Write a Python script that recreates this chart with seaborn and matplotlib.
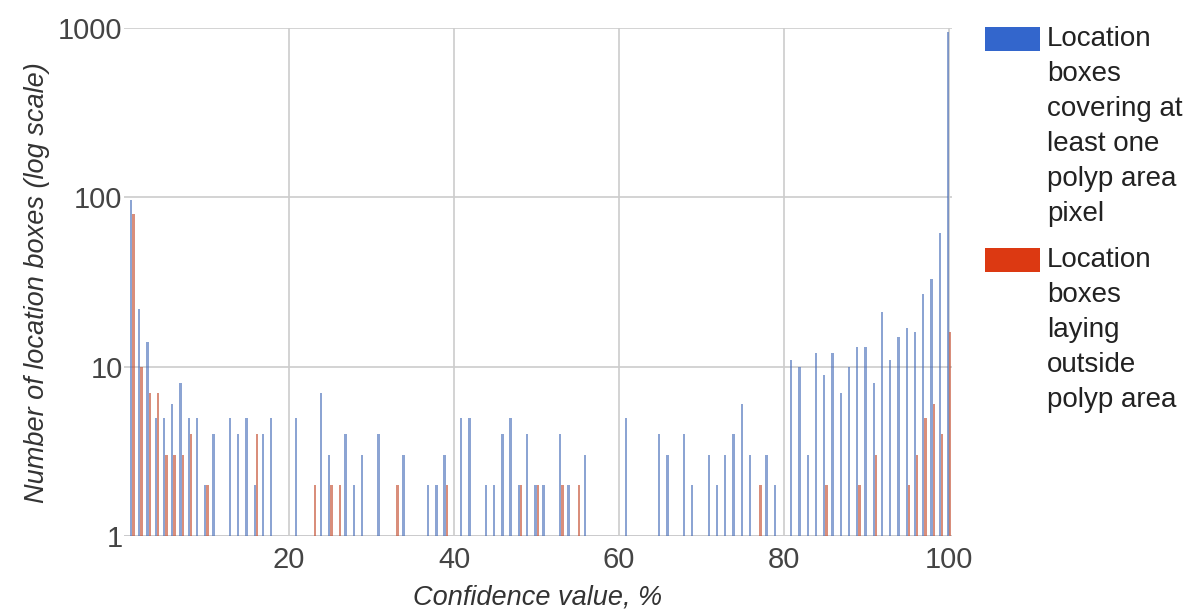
import matplotlib
matplotlib.use("Agg")
import matplotlib.pyplot as plt
import matplotlib.patches as mpatches
import numpy as np
import pandas as pd
import seaborn as sns

# Confidence values (%) and box counts for boxes covering at least one polyp pixel
covering_conf = [1, 2, 3, 4, 5, 6, 7, 8, 9, 10, 11, 13, 14, 15, 16, 17, 18, 21,
                 24, 25, 27, 28, 29, 31, 34, 37, 38, 39, 41, 42, 44, 45, 46, 47,
                 48, 49, 50, 51, 53, 54, 56, 61, 65, 66, 68, 69, 71, 72, 73, 74,
                 75, 76, 78, 79, 81, 82, 83, 84, 85, 86, 87, 88, 89, 90, 91, 92,
                 93, 94, 95, 96, 97, 98, 99, 100]
covering_count = [96, 22, 14, 5, 5, 6, 8, 5, 5, 2, 4, 5, 4, 5, 2, 4, 5, 5,
                  7, 3, 4, 2, 3, 4, 3, 2, 2, 3, 5, 5, 2, 2, 4, 5,
                  2, 4, 2, 2, 4, 2, 3, 5, 4, 3, 4, 2, 3, 2, 3, 4,
                  6, 3, 3, 2, 11, 10, 3, 12, 9, 12, 7, 10, 13, 13, 8, 21,
                  11, 15, 17, 16, 27, 33, 62, 950]

# Confidence values (%) and box counts for boxes lying outside the polyp area
outside_conf = [1, 2, 3, 4, 5, 6, 7, 8, 10, 16, 23, 25, 26, 33, 39, 48, 50, 53,
                55, 77, 85, 89, 91, 95, 96, 97, 98, 99, 100]
outside_count = [80, 10, 7, 7, 3, 3, 3, 4, 2, 4, 2, 2, 2, 2, 2, 2, 2, 2,
                 2, 2, 2, 2, 3, 2, 3, 5, 6, 4, 16]

series_names = ["Location boxes covering at least one polyp area pixel",
                "Location boxes laying outside polyp area"]
legend_lines = [["Location", "boxes", "covering at", "least one", "polyp area", "pixel"],
                ["Location", "boxes", "laying", "outside", "polyp area"]]
colors = ["#3366cc", "#dc3912"]

x_ticks = [20, 40, 60, 80, 100]
y_ticks = [1, 10, 100, 1000]
y_tick_labels = ["1", "10", "100", "1000"]

df = pd.concat([
    pd.DataFrame({"confidence": covering_conf, "count": covering_count, "series": series_names[0]}),
    pd.DataFrame({"confidence": outside_conf, "count": outside_count, "series": series_names[1]}),
], ignore_index=True)

sns.set_theme(style="white")
plt.rcParams["font.family"] = ["Liberation Sans", "DejaVu Sans"]

fig = plt.figure(figsize=(11.84, 6.12), dpi=100)
ax = fig.add_axes([0.1047, 0.124, 0.699, 0.830])

sns.barplot(data=df, x="confidence", y="count", hue="series",
            hue_order=series_names, palette=colors, native_scale=True,
            width=0.56, ax=ax, legend=False, alpha=0.62, linewidth=0,
            errorbar=None)
ax.set_yscale("log")

ax.set_xlim(0, 100.3)
ax.set_ylim(1, 1000)
ax.set_xticks(x_ticks)
ax.set_xticklabels([str(t) for t in x_ticks])
ax.set_yticks(y_ticks)
ax.set_yticklabels(y_tick_labels)
ax.minorticks_off()
ax.tick_params(axis="both", length=0, labelsize=21, colors="#444444")
ax.tick_params(axis="x", pad=7)
ax.tick_params(axis="y", pad=1)

ax.grid(True, color="#cccccc", linewidth=1.2)
ax.set_axisbelow(True)
for s in ax.spines.values():
    s.set_visible(False)
ax.axhline(1, color="#c9c9d6", linewidth=1.4, zorder=0.5)

ax.set_xlabel("Confidence value, %", fontsize=19.5, style="italic",
              color="#333333", labelpad=8)
ax.set_ylabel("Number of location boxes (log scale)", fontsize=19.5,
              style="italic", color="#333333", labelpad=6)

# Legend: colour swatch beside the first line of each wrapped label
W, H = 1184.0, 612.0
line_h = 35.0
swatch_tops = [27, 248]
for lines, col, top in zip(legend_lines, colors, swatch_tops):
    fig.patches.append(mpatches.Rectangle((985 / W, 1 - (top + 24) / H), 55 / W, 24 / H,
                                          transform=fig.transFigure, color=col,
                                          linewidth=0))
    for i, line in enumerate(lines):
        fig.text(1047 / W, 1 - (top + 12 + i * line_h) / H, line, fontsize=20,
                 color="#222222", va="center", ha="left")

fig.savefig("out.png", dpi=100)
